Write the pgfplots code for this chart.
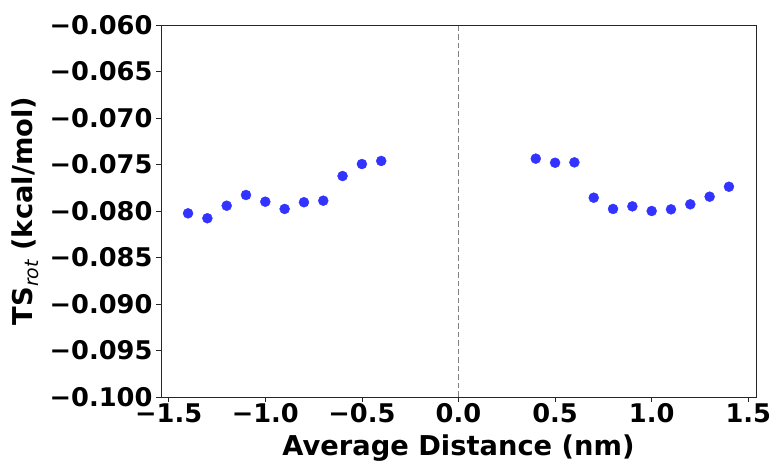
\documentclass[border=0pt]{standalone}
\usepackage{fontspec}
\setmainfont{DejaVu Sans}
\usepackage{pgfplots}
\pgfplotsset{compat=1.18}
\definecolor{ptblue}{RGB}{51,51,255}
\begin{document}
\begin{tikzpicture}
\begin{axis}[
  scale only axis,
  width=595bp, height=372bp,
  xmin=-1.54, xmax=1.54,
  ymin=-0.1, ymax=-0.06,
  axis line style={black!85, line width=0.8bp},
  tick style={black!85, line width=0.8bp},
  tick align=outside,
  major tick length=5bp,
  xtick={-1.5,-1,-0.5,0,0.5,1,1.5},
  xticklabels={−1.5,−1.0,−0.5,0.0,0.5,1.0,1.5},
  ytick={-0.1,-0.095,-0.09,-0.085,-0.08,-0.075,-0.07,-0.065,-0.06},
  yticklabels={−0.100,−0.095,−0.090,−0.085,−0.080,−0.075,−0.070,−0.065,−0.060},
  xtick pos=bottom, ytick pos=left,
  ticklabel style={font=\fontsize{25.8}{30}\selectfont\bfseries},
  xticklabel style={yshift=2bp},
  label style={font=\fontsize{27.4}{32}\selectfont\bfseries},
  xlabel={Average Distance (nm)},
  ylabel={TS\raisebox{-0.22em}{\fontsize{19}{22}\selectfont\mdseries\itshape rot} (kcal/mol)},
  xlabel style={yshift=-5bp},
  ylabel style={yshift=4bp},
  clip=false,
]
\coordinate (sw) at (rel axis cs:0,0);
\coordinate (ne) at (rel axis cs:1,1);
\addplot[gray, line width=1.3bp, dash pattern=on 5.5bp off 3bp] coordinates {(0,-0.1) (0,-0.06)};
\addplot[only marks, mark=*, color=ptblue, mark size=5bp] coordinates {
(-1.4,-0.08025) (-1.3,-0.08078) (-1.2,-0.07943) (-1.1,-0.07828) (-1.0,-0.07900)
(-0.9,-0.07978) (-0.8,-0.07906) (-0.7,-0.07889) (-0.6,-0.07624) (-0.5,-0.07495)
(-0.4,-0.07462)
(0.4,-0.07437) (0.5,-0.07481) (0.6,-0.07477) (0.7,-0.07857) (0.8,-0.07978)
(0.9,-0.07950) (1.0,-0.08000) (1.1,-0.07982) (1.2,-0.07928) (1.3,-0.07846)
(1.4,-0.07739)
};
\end{axis}
\pgfresetboundingbox
\path[use as bounding box] ([shift={(-161bp,-64bp)}]sw) rectangle ([shift={(19bp,25bp)}]ne);
\end{tikzpicture}
\end{document}
